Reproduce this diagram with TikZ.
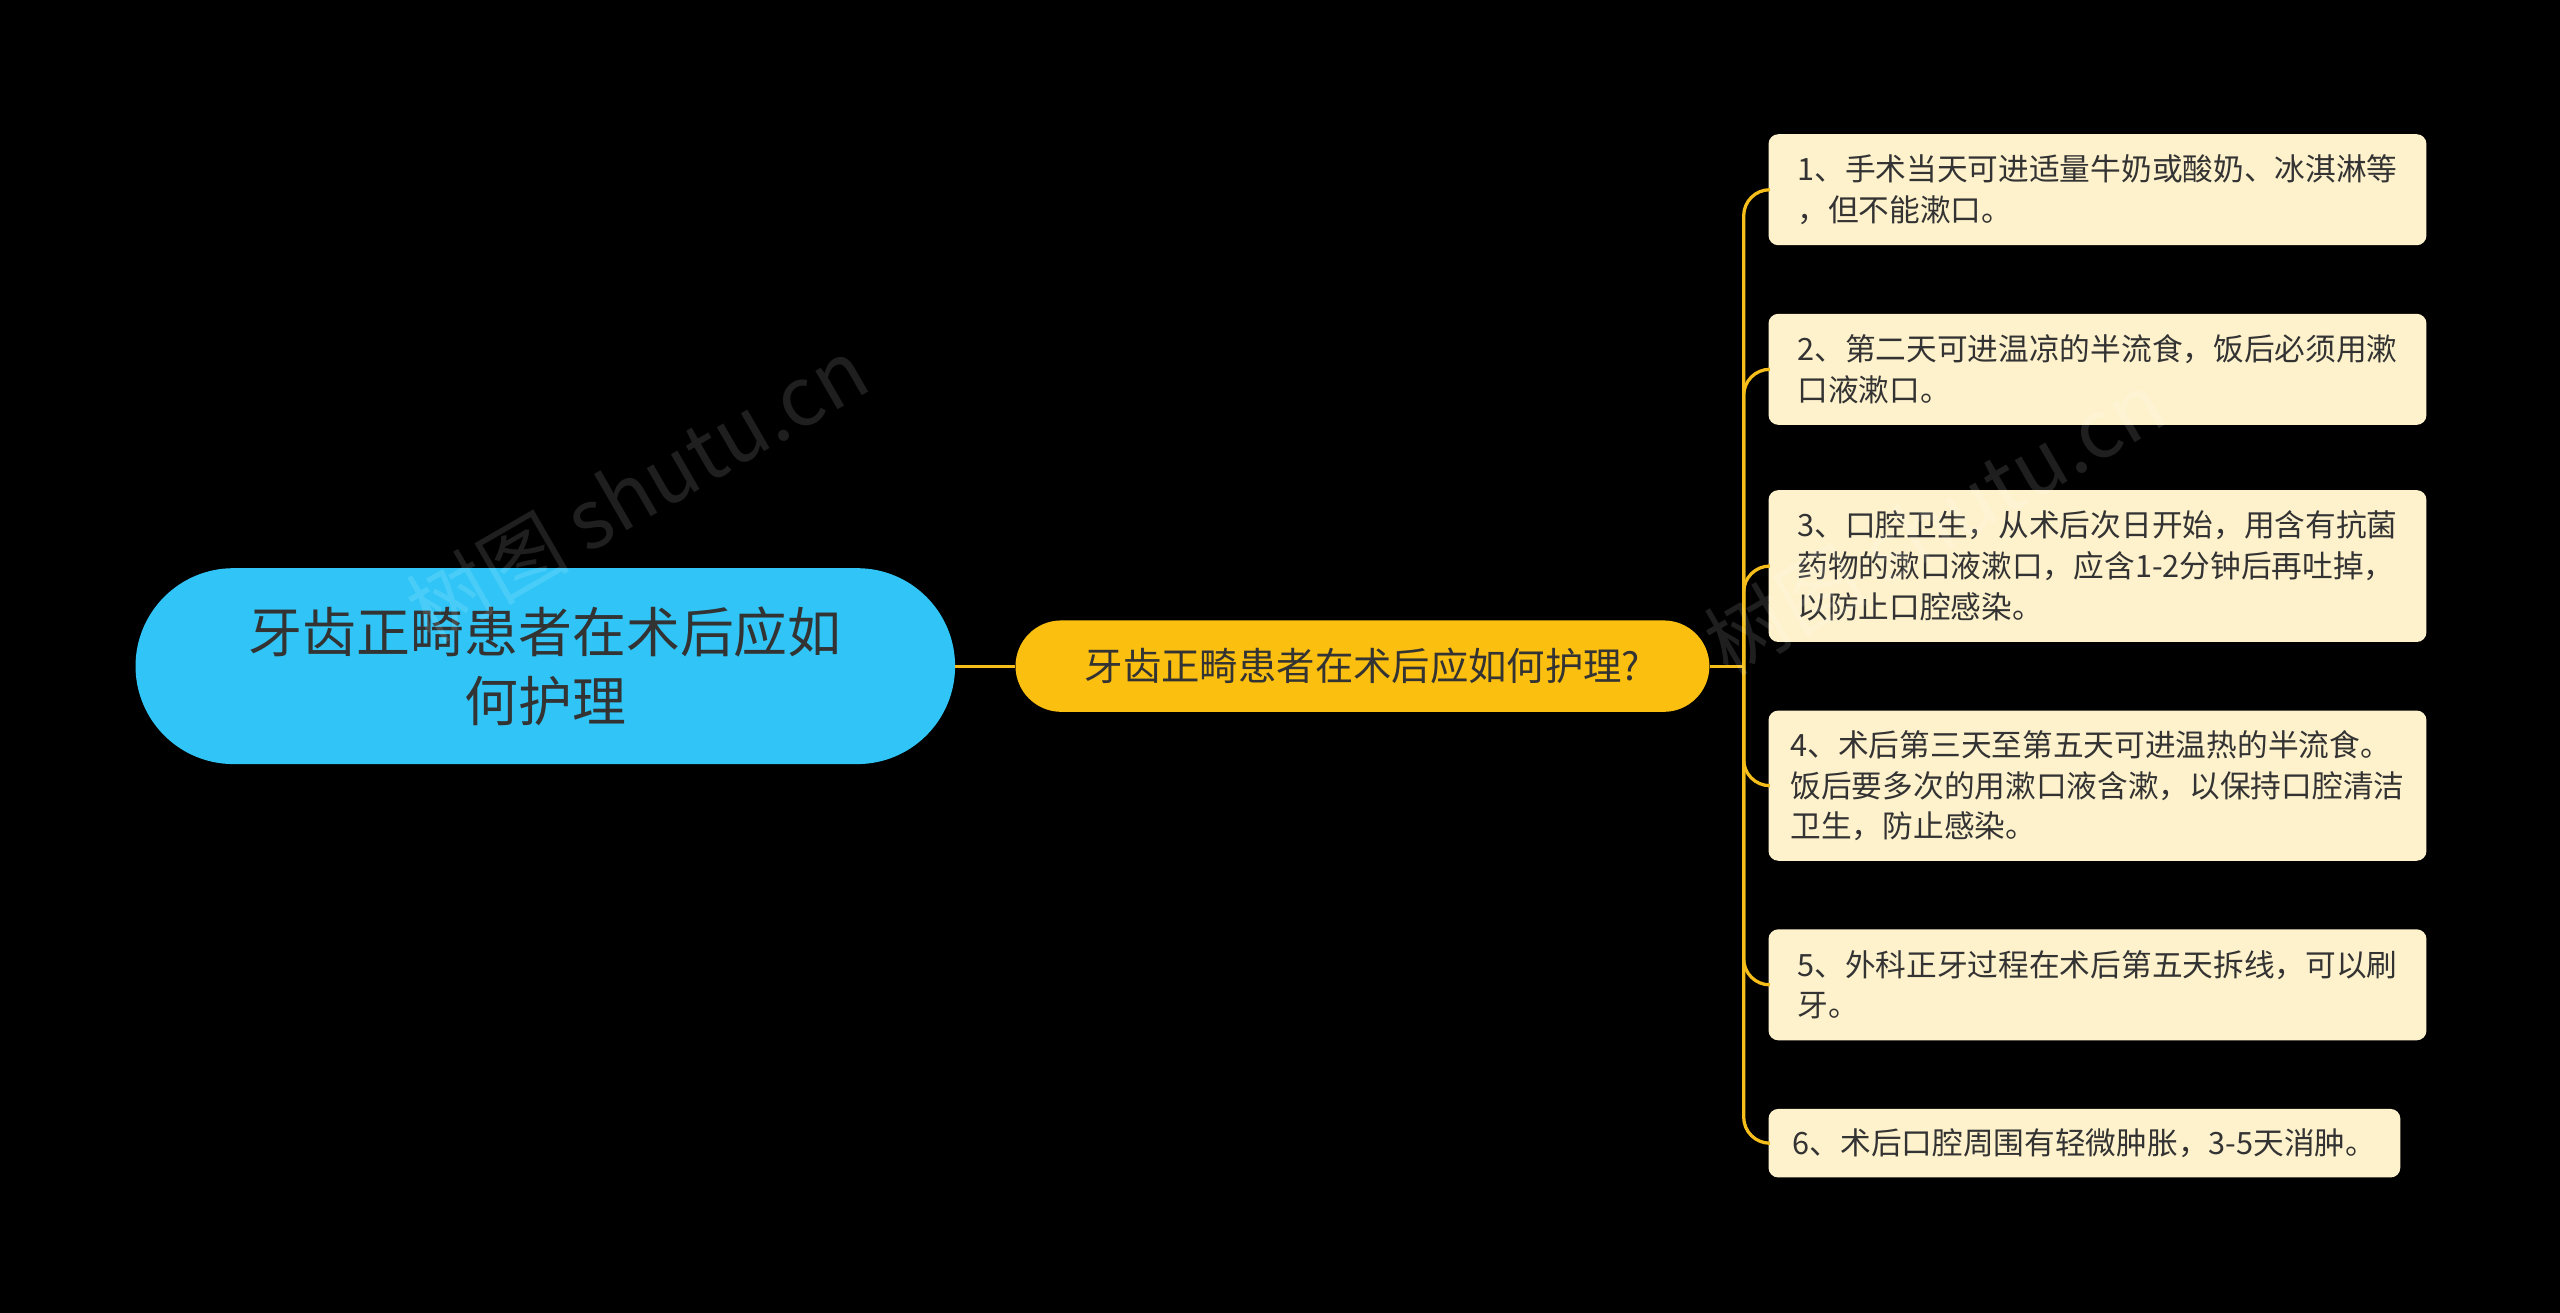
\documentclass[tikz,border=0pt]{standalone}
\usepackage{fontspec}
\setmainfont{Noto Sans CJK SC}
\begin{document}
\begin{tikzpicture}[x=1pt,y=-1pt,
  leaf/.style={fill=leafc,rounded corners=6pt,anchor=north west,align=left,inner xsep=6pt,inner ysep=0pt,font=\fontsize{18.8}{25}\selectfont,text=txt},
  conn/.style={draw=lnc,line width=2pt}]
\definecolor{rootc}{HTML}{30C5F6}
\definecolor{midc}{HTML}{FBBF10}
\definecolor{leafc}{HTML}{FEF2CC}
\definecolor{lnc}{HTML}{F5BE1A}
\definecolor{txt}{HTML}{333333}
\fill[black] (0,0) rectangle (1568,804);
\useasboundingbox (0,0) rectangle (1568,804);
\node[fill=rootc,rounded corners=60pt,minimum width=502pt,minimum height=120pt,align=center,font=\fontsize{33}{42}\selectfont,text=txt] (root) at (334,408) {牙齿正畸患者在术后应如\\何护理};
\node[fill=midc,rounded corners=28pt,minimum width=425pt,minimum height=56pt,font=\fontsize{23.5}{26}\selectfont,text=txt] (mid) at (834.5,408) {牙齿正畸患者在术后应如何护理?};
\draw[conn] (root.east) -- (mid.west);
\node[leaf,minimum width=403pt,minimum height=68pt] (l1) at (1083,82) {1、手术当天可进适量牛奶或酸奶、冰淇淋等\\，但不能漱口。};
\node[leaf,minimum width=403pt,minimum height=68pt] (l2) at (1083,192) {2、第二天可进温凉的半流食，饭后必须用漱\\口液漱口。};
\node[leaf,minimum width=403pt,minimum height=93pt] (l3) at (1083,300) {3、口腔卫生，从术后次日开始，用含有抗菌\\药物的漱口液漱口，应含1-2分钟后再吐掉，\\以防止口腔感染。};
\node[leaf,minimum width=403pt,minimum height=92pt] (l4) at (1083,435) {4、术后第三天至第五天可进温热的半流食。\\饭后要多次的用漱口液含漱，以保持口腔清洁\\卫生，防止感染。};
\node[leaf,minimum width=403pt,minimum height=68pt] (l5) at (1083,569) {5、外科正牙过程在术后第五天拆线，可以刷\\牙。};
\node[leaf,minimum width=387pt,minimum height=42pt] (l6) at (1083,679) {6、术后口腔周围有轻微肿胀，3-5天消肿。};
\draw[conn] (mid.east) -- (1068,408) coordinate (j);
\foreach \n in {l1,l2,l3,l4,l5,l6}{\draw[conn,rounded corners=16pt] (j) |- (\n.west);}
\begin{scope}[opacity=0.12,text=white]
\node[rotate=30,font=\fontsize{50}{50}\selectfont] at (390,300) {树图 shutu.cn};
\node[rotate=30,font=\fontsize{50}{50}\selectfont] at (1185,320) {树图 shutu.cn};
\end{scope}
\end{tikzpicture}
\end{document}
